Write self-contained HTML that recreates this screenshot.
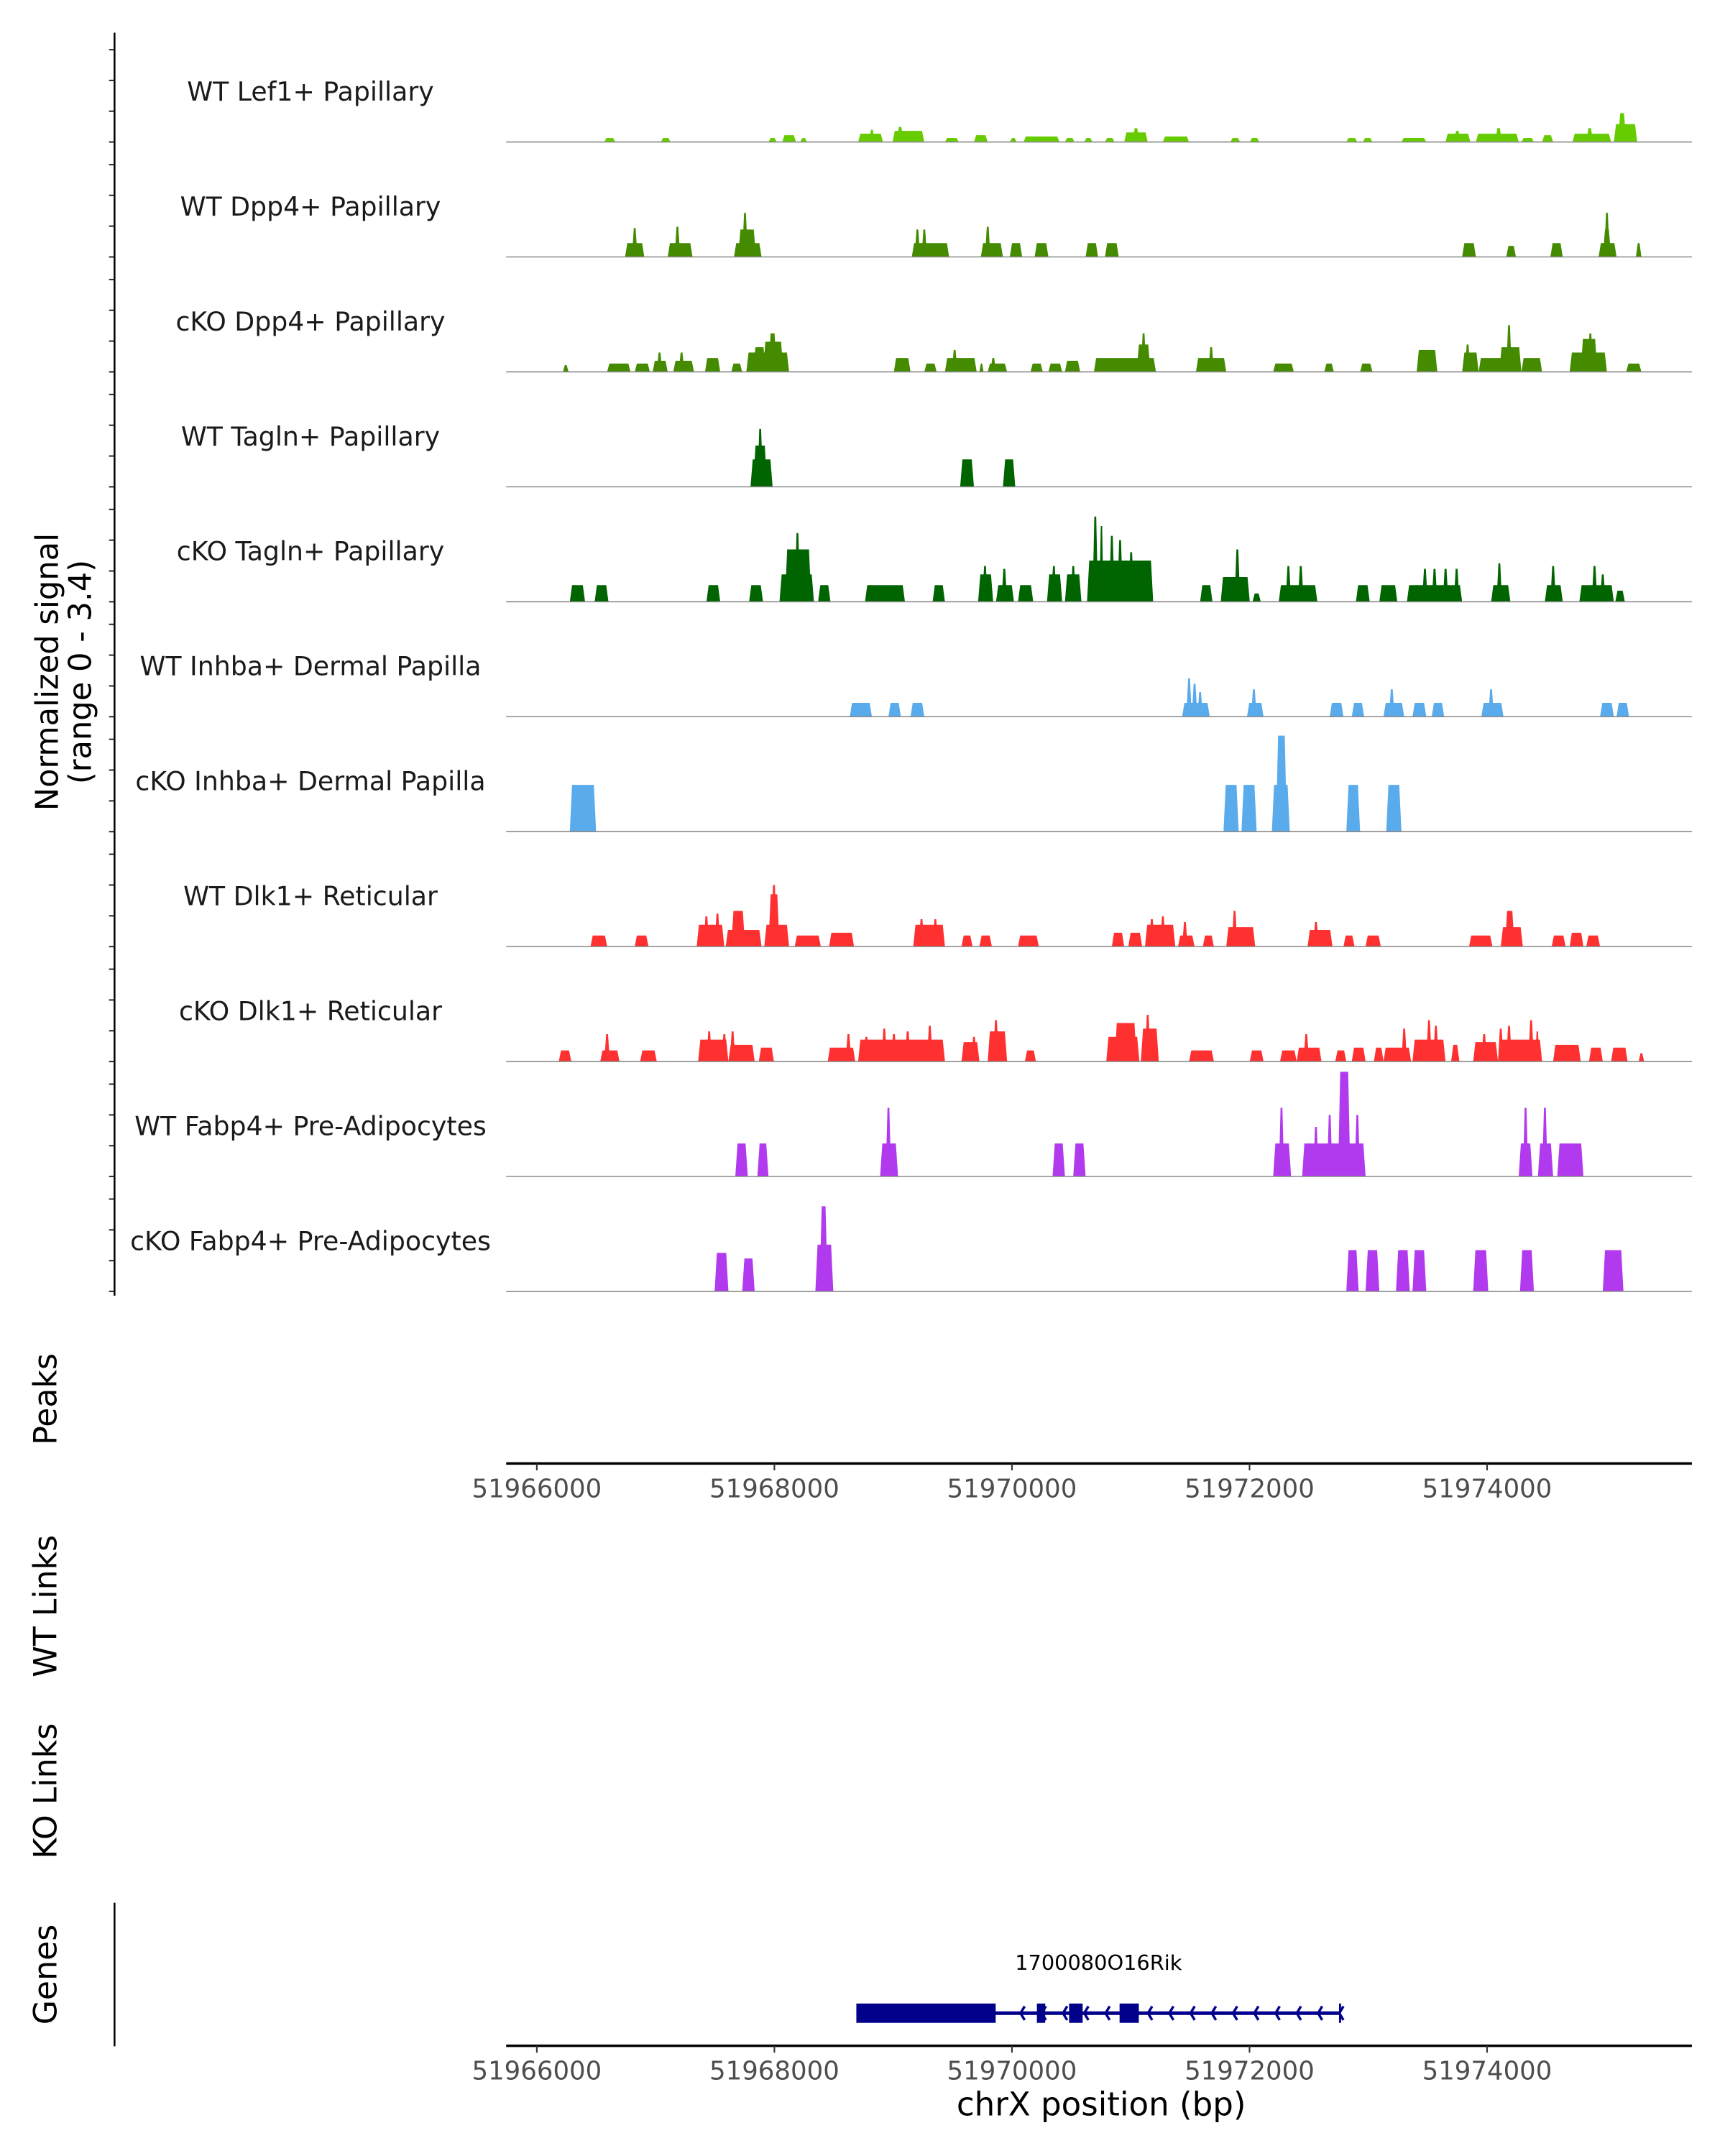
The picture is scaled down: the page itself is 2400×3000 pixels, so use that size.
<!DOCTYPE html>
<html><head><meta charset="utf-8"><style>
html,body{margin:0;padding:0;background:#fff;}
svg{display:block;font-family:"DejaVu Sans","Liberation Sans",sans-serif;}
</style></head><body>
<svg id="chart" width="2400" height="3000" viewBox="0 0 1250 1562.5" xmlns="http://www.w3.org/2000/svg">
<rect width="1250" height="1562.5" fill="#fff"/>
<g id="tracks"></g>
<g id="axes"></g>
<text transform="translate(42,487) rotate(-90)" text-anchor="middle" font-size="22.5" fill="#000"><tspan x="0" dy="0">Normalized signal</tspan><tspan x="0" dy="24">(range 0 - 3.4)</tspan></text>
<text transform="translate(41,1014) rotate(-90)" text-anchor="middle" font-size="23">Peaks</text>
<text transform="translate(41,1164) rotate(-90)" text-anchor="middle" font-size="23">WT Links</text>
<text transform="translate(41,1298) rotate(-90)" text-anchor="middle" font-size="23">KO Links</text>
<text transform="translate(41,1431) rotate(-90)" text-anchor="middle" font-size="23">Genes</text>
<text x="798" y="1533" text-anchor="middle" font-size="23.5">chrX position (bp)</text>
</svg>
<script>
const regionStart = 51966000;
const signalStart = 51965895; // signal peak offsets are relative to this position
const trackNames = ["WT Lef1+ Papillary","WT Dpp4+ Papillary","cKO Dpp4+ Papillary","WT Tagln+ Papillary","cKO Tagln+ Papillary","WT Inhba+ Dermal Papilla","cKO Inhba+ Dermal Papilla","WT Dlk1+ Reticular","cKO Dlk1+ Reticular","WT Fabp4+ Pre-Adipocytes","cKO Fabp4+ Pre-Adipocytes"];
const trackColors = ["#66cc00","#458b00","#458b00","#006400","#006400","#5aabec","#5aabec","#ff3030","#ff3030","#b23aee","#b23aee"];
const xTicks = [51966000,51968000,51970000,51972000,51974000];
const yTickValues = [0,1,2,3];
// peaks: [start offset bp, end offset bp, signal]
const lef1WT = [[673,766,.13],[1149,1231,.13],[2055,2125,.13],[2171,2287,.22],[2322,2380,.13],[2810,3019,.27],[2903,2949,.4],[3100,3367,.36],[3135,3193,.49],[3541,3657,.13],[3785,3901,.22],[4087,4145,.13],[4203,4505,.18],[4551,4632,.13],[4714,4783,.13],[4888,4969,.13],[5050,5248,.31],[5120,5178,.45],[5375,5596,.18],[5944,6026,.13],[6107,6188,.13],[6920,7012,.13],[7059,7140,.13],[7384,7593,.13],[7755,7964,.27],[7825,7883,.36],[8011,8371,.27],[8173,8231,.45],[8394,8499,.13],[8568,8661,.22],[8824,9149,.27],[8940,8998,.45],[9172,9369,.58],[9207,9276,.94]];
const dpp4WT = [[848,1010,.45],[906,952,.94],[1207,1416,.45],[1265,1312,.98],[1765,1997,.45],[1800,1950,.89],[1834,1881,1.43],[3262,3576,.45],[3286,3332,.89],[3344,3390,.89],[3843,4029,.45],[3878,3924,.98],[4087,4191,.45],[4296,4412,.45],[4725,4830,.45],[4888,5004,.45],[7895,8011,.45],[8266,8348,.36],[8638,8742,.45],[9044,9195,.45],[9079,9149,.89],[9091,9137,1.43],[9358,9404,.45]];
const dpp4KO = [[325,372,.22],[697,894,.27],[929,1057,.27],[1080,1207,.36],[1115,1161,.63],[1254,1428,.36],[1300,1347,.63],[1521,1649,.45],[1742,1834,.27],[1869,2229,.63],[1927,2032,.8],[2010,2180,.98],[2055,2125,1.25],[3111,3251,.45],[3367,3471,.27],[3541,3808,.45],[3599,3646,.71],[3831,3866,.27],[3901,4064,.27],[3924,3971,.45],[4261,4365,.27],[4412,4528,.27],[4551,4679,.36],[4795,5317,.45],[5155,5271,.89],[5190,5236,1.25],[5654,5909,.45],[5759,5805,.8],[6304,6478,.27],[6734,6815,.27],[7036,7140,.27],[7512,7686,.71],[7895,8034,.63],[7918,7964,.89],[8034,8266,.45],[8208,8394,.8],[8266,8313,1.52],[8394,8568,.45],[8800,9114,.63],[8893,9033,1.07],[8951,8998,1.25],[9276,9404,.27]];
const taglnWT = [[1904,2090,.89],[1927,2043,1.34],[1962,2009,1.88],[3669,3785,.89],[4029,4133,.89]];
const taglnKO = [[383,511,.54],[592,708,.54],[1533,1649,.54],[1892,2009,.54],[2148,2438,.89],[2194,2415,1.7],[2276,2322,2.23],[2473,2577,.54],[2868,3204,.54],[3437,3541,.54],[3820,3947,.89],[3855,3901,1.16],[3971,4122,.54],[4017,4064,1.07],[4156,4284,.54],[4400,4528,.89],[4435,4481,1.16],[4551,4690,.89],[4598,4644,1.16],[4737,5294,1.34],[4783,4830,2.77],[4841,4876,2.46],[4923,4969,2.14],[4992,5039,2.0],[5085,5132,1.61],[5155,5201,1.25],[5236,5283,1.07],[5689,5793,.54],[5863,6107,.8],[5979,6026,1.7],[6130,6200,.27],[6351,6676,.54],[6409,6455,1.16],[6513,6560,1.16],[7001,7117,.54],[7198,7349,.54],[7430,7895,.54],[7558,7605,1.07],[7639,7686,1.07],[7732,7779,1.07],[7825,7872,1.07],[8139,8301,.54],[8185,8231,1.25],[8591,8742,.54],[8638,8684,1.16],[8882,9172,.54],[8986,9033,1.16],[9056,9102,.89],[9184,9265,.36]];
const inhbaWT = [[2740,2926,.45],[3065,3170,.45],[3251,3367,.45],[5538,5770,.45],[5573,5619,1.25],[5619,5666,1.07],[5666,5712,.8],[6084,6223,.45],[6118,6165,.89],[6780,6896,.45],[6966,7070,.45],[7233,7407,.45],[7279,7326,.89],[7477,7593,.45],[7639,7744,.45],[8057,8243,.45],[8115,8162,.89],[9056,9172,.45],[9195,9300,.45]];
const inhbaKO = [[383,604,1.52],[5886,6014,1.52],[6037,6165,1.52],[6293,6444,1.52],[6327,6420,3.12],[6920,7036,1.52],[7256,7384,1.52]];
const dlk1WT = [[557,697,.36],[929,1045,.36],[1451,1683,.71],[1509,1556,.98],[1602,1649,1.07],[1695,1997,.54],[1742,1858,1.16],[2020,2229,.71],[2055,2148,1.7],[2078,2125,2.0],[2276,2496,.36],[2566,2775,.45],[3274,3541,.71],[3320,3367,.89],[3437,3483,.89],[3680,3773,.36],[3831,3936,.36],[4156,4331,.36],[4946,5050,.45],[5085,5201,.45],[5225,5480,.71],[5259,5306,.89],[5352,5399,.98],[5503,5642,.36],[5538,5584,.8],[5712,5805,.36],[5909,6153,.63],[5956,6002,1.16],[6594,6803,.54],[6641,6687,.8],[6896,6989,.36],[7082,7210,.36],[7953,8150,.36],[8220,8406,.63],[8255,8336,1.16],[8649,8766,.36],[8800,8916,.45],[8940,9056,.36]];
const dlk1KO = [[290,395,.36],[639,801,.36],[673,720,.89],[975,1115,.36],[1463,1718,.71],[1533,1579,.98],[1660,1707,.89],[1718,1939,.54],[1730,1776,.98],[1974,2101,.45],[2554,2786,.45],[2705,2752,.89],[2810,3541,.71],[2856,2903,.8],[3007,3053,1.07],[3088,3135,.89],[3204,3251,.98],[3390,3437,1.16],[3680,3831,.63],[3762,3808,.8],[3901,4064,.98],[3947,3994,1.34],[4214,4307,.36],[4899,5178,.8],[4969,5155,1.25],[5190,5341,1.07],[5225,5271,1.52],[5596,5805,.36],[6107,6223,.36],[6362,6502,.36],[6502,6711,.45],[6560,6606,.89],[6827,6920,.36],[6966,7082,.45],[7152,7233,.45],[7233,7465,.45],[7384,7430,1.07],[7477,7755,.71],[7593,7639,1.34],[7651,7697,1.16],[7802,7872,.54],[7988,8197,.63],[8057,8104,.89],[8197,8568,.71],[8197,8243,1.07],[8266,8313,1.16],[8452,8499,1.34],[8510,8545,.98],[8661,8893,.54],[8963,9079,.45],[9149,9288,.45],[9381,9427,.27]];
const fabp4WT = [[1776,1881,1.07],[1962,2055,1.07],[2995,3146,1.07],[3042,3088,2.23],[4447,4551,1.07],[4621,4725,1.07],[6304,6455,1.07],[6351,6397,2.23],[6548,7082,1.07],[6641,6687,1.61],[6757,6803,2.0],[6850,6954,3.4],[6989,7036,2.0],[8371,8487,1.07],[8406,8452,2.23],[8533,8661,1.07],[8568,8615,2.23],[8696,8916,1.07]];
const fabp4KO = [[1602,1718,1.25],[1834,1939,1.07],[2450,2601,1.52],[2485,2554,2.77],[6920,7024,1.34],[7082,7198,1.34],[7338,7454,1.34],[7477,7593,1.34],[7988,8115,1.34],[8382,8499,1.34],[9079,9253,1.34]];
const trackData = [lef1WT,dpp4WT,dpp4KO,taglnWT,taglnKO,inhbaWT,inhbaKO,dlk1WT,dlk1KO,fabp4WT,fabp4KO];
// gene model (offsets bp from regionStart)
const geneSpan = [2690,6762];
const geneExons = [[2690,3863],[4210,4280],[4481,4595],[4906,5068]];

const NS="http://www.w3.org/2000/svg";
function mk(tag,attrs,parent){const e=document.createElementNS(NS,tag);for(const k in attrs)e.setAttribute(k,attrs[k]);parent.appendChild(e);return e;}
const X0=389, PXPERBP=688.6/8000, PLOT_L=366.8, PLOT_R=1226;
function xScaleAbs(bp){return X0+(bp-regionStart)*PXPERBP;}
function xScale(off){return xScaleAbs(regionStart+off);}
function xSignal(off){return xScaleAbs(signalStart+off);}
const TRACK_TOP=102.9, TRACK_STEP=83.3, UNIT=22.3;
function baseY(i){return TRACK_TOP+i*TRACK_STEP;}
function yScale(i,v){return baseY(i)-v*UNIT;}

const tracks=document.getElementById('tracks');
const axes=document.getElementById('axes');
trackData.forEach((peaks,i)=>{
  const g=mk('g',{},tracks);
  
  
  const lab=mk('text',{x:225,y:baseY(i)-30,'text-anchor':'middle','font-size':'18.9',fill:'#1a1a1a'},g);
  lab.textContent=trackNames[i];
  
  
  peaks.forEach(p=>{
    const x1=xSignal(p[0]),x2=xSignal(p[1]),y=yScale(i,p[2]),b=baseY(i);
    const ins=Math.min(1.6,(x2-x1)/3);
    const poly=mk('polygon',{points:`${x1},${b} ${x1+ins},${y} ${x2-ins},${y} ${x2},${b}`,fill:trackColors[i]},g);
    
    
  });
  const bl=mk('line',{x1:PLOT_L,x2:PLOT_R,y1:baseY(i),y2:baseY(i),stroke:'#8a8a8a','stroke-width':'0.8'},g);
  
  
  yTickValues.forEach(v=>{
    const t=mk('line',{x1:79,x2:83,y1:yScale(i,v),y2:yScale(i,v),stroke:'#333','stroke-width':'1.1'},axes);
    
    
  });
});
const yl=mk('line',{x1:83,x2:83,y1:23.7,y2:939,stroke:'#000','stroke-width':'1.3'},axes);



function xAxis(y,name){
  const g=mk('g',{},axes);
  
  
  mk('line',{x1:PLOT_L,x2:PLOT_R,y1:y,y2:y,stroke:'#000','stroke-width':'1.8'},g);
  xTicks.forEach(t=>{
    const x=xScaleAbs(t);
    const tk=mk('line',{x1:x,x2:x,y1:y,y2:y+5,stroke:'#333','stroke-width':'1.1'},g);
    
    
    const tl=mk('text',{x:x,y:y+24.5,'text-anchor':'middle','font-size':'18.5',fill:'#4d4d4d'},g);
    tl.textContent=String(t);
    
    
  });
}
xAxis(1060.6,'x-axis-peaks');
xAxis(1482.6,'x-axis-genes');
const gl=mk('line',{x1:83,x2:83,y1:1379,y2:1483,stroke:'#000','stroke-width':'1.3'},axes);



// gene
const gg=mk('g',{},tracks);


const gy=1459;
mk('line',{x1:xScale(geneSpan[0]),x2:xScale(geneSpan[1]),y1:gy,y2:gy,stroke:'#00008b','stroke-width':'2.6'},gg);
for(let x=xScale(geneExons[0][1])+18;x<=xScale(geneSpan[1])+1;x+=15.4){
  mk('polyline',{points:`${x+3},${gy-5} ${x},${gy} ${x+3},${gy+5}`,fill:'none',stroke:'#00008b','stroke-width':'1.8'},gg);
}
mk('line',{x1:xScale(geneSpan[1]),x2:xScale(geneSpan[1]),y1:gy-7,y2:gy+7,stroke:'#00008b','stroke-width':'1.5'},gg);
geneExons.forEach((e,k)=>{
  const r=mk('rect',{x:xScale(e[0]),y:gy-7,width:Math.max(3,xScale(e[1])-xScale(e[0])),height:14,fill:'#00008b'},gg);
  
  
});
const gt=mk('text',{x:796,y:1427.5,'text-anchor':'middle','font-size':'15',fill:'#000'},gg);
gt.textContent='1700080O16Rik';


</script>
</body></html>
